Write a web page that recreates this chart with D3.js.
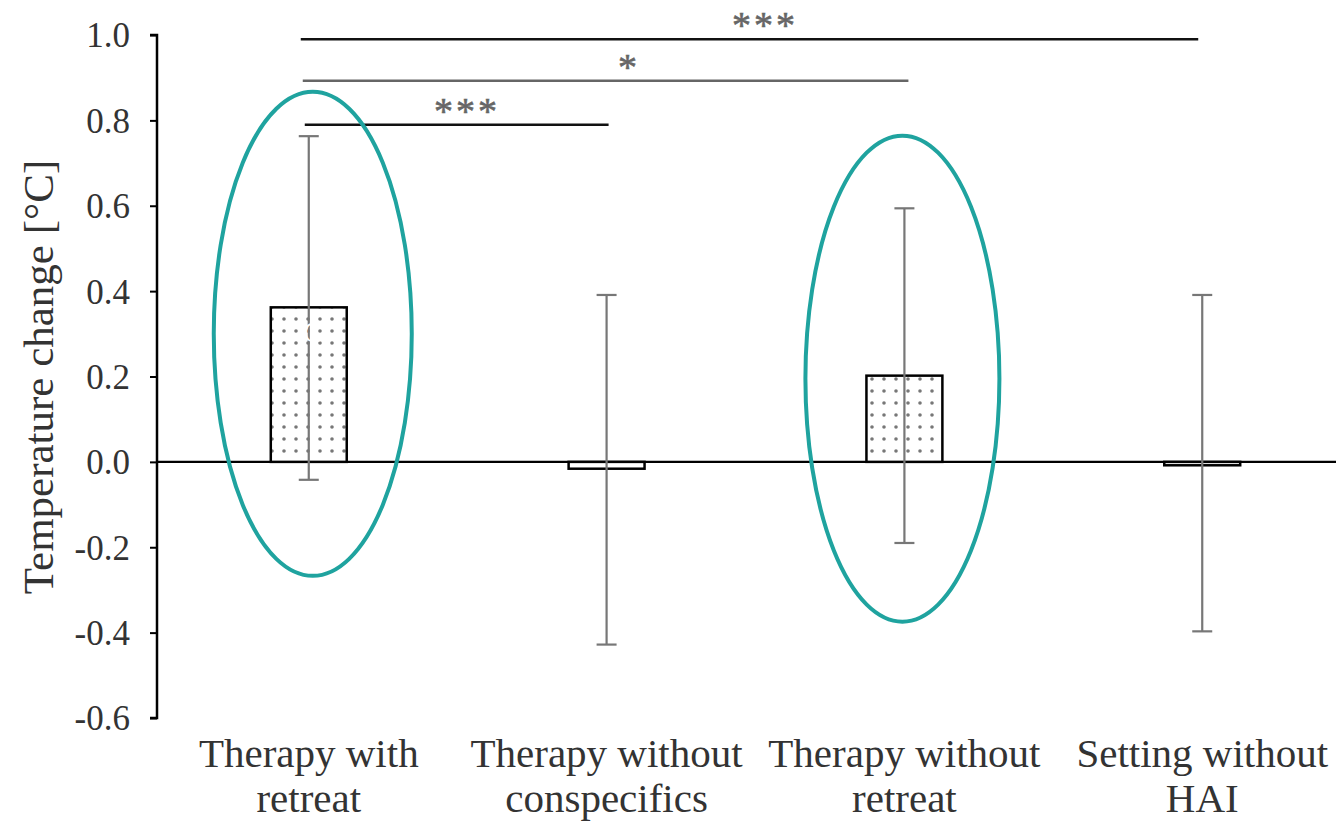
<!DOCTYPE html>
<html><head><meta charset="utf-8">
<script src="https://cdn.jsdelivr.net/npm/d3@7"></script>
<style>body{margin:0;background:#fff}svg{display:block}</style>
</head><body>
<svg id="c" width="1336" height="825"></svg>
<script>
const categories = [["Therapy with","retreat"],["Therapy without","conspecifics"],["Therapy without","retreat"],["Setting without","HAI"]];
const means = [0.362, -0.016, 0.202, -0.008];
const errLow = [-0.042, -0.428, -0.19, -0.397];
const errHigh = [0.763, 0.391, 0.594, 0.391];
const patterned = [true, false, true, false];
const yTicks = [1.0, 0.8, 0.6, 0.4, 0.2, 0.0, -0.2, -0.4, -0.6];
const sigPairs = [[0,3,0.99,"***"],[0,2,0.893,"*"],[0,1,0.79,"***"]];
const highlighted = [0, 2];

const svg = d3.select("#c");
const x = d3.scaleBand().domain(d3.range(4)).range([160, 1351]).paddingInner(0.745).paddingOuter(0.372);
const y = d3.scaleLinear().domain([-0.6, 1.0]).range([718, 35]);
const font = "'Liberation Serif','Times New Roman',serif";

const defs = svg.append("defs");
const pat = defs.append("pattern").attr("id","dots").attr("patternUnits","userSpaceOnUse")
  .attr("width",12).attr("height",12).attr("x",2).attr("y",1);
pat.append("rect").attr("width",12).attr("height",12).attr("fill","#fff");
pat.append("circle").attr("cx",6).attr("cy",6).attr("r",1.8).attr("fill","#777");

// zero line
svg.append("line").attr("x1",157).attr("x2",1336).attr("y1",y(0)).attr("y2",y(0))
  .attr("stroke","#000").attr("stroke-width",2.2);

// bars
const bw = x.bandwidth();
svg.selectAll("rect.bar").data(means).join("rect").attr("class","bar")
  .attr("x",(d,i)=>x(i)).attr("width",bw)
  .attr("y",d=>Math.min(y(d),y(0))).attr("height",d=>Math.max(Math.abs(y(d)-y(0)),1))
  .attr("fill",(d,i)=>patterned[i]?"url(#dots)":"#fff")
  .attr("stroke","#000").attr("stroke-width",2.5);

// error bars
const eb = svg.append("g").attr("stroke","#777").attr("stroke-width",2.2);
means.forEach((m,i)=>{
  const cx = x(i)+bw/2;
  eb.append("line").attr("x1",cx).attr("x2",cx).attr("y1",y(errHigh[i])).attr("y2",y(errLow[i]));
  eb.append("line").attr("x1",cx-10).attr("x2",cx+10).attr("y1",y(errHigh[i])).attr("y2",y(errHigh[i]));
  eb.append("line").attr("x1",cx-10).attr("x2",cx+10).attr("y1",y(errLow[i])).attr("y2",y(errLow[i]));
});

// white C label in bar 1
svg.append("text").attr("x",x(0)+bw/2+4).attr("y",y(0.28)).attr("text-anchor","middle")
  .attr("font-family",font).attr("font-size",30).attr("fill","#fff").text("C");

// significance lines
const sigColors = ["#111","#666","#111"];
const endOff = [-4, 4, 2];
sigPairs.forEach((s,k)=>{
  const x1 = x(s[0])+bw/2 - 8 + k*2, x2 = x(s[1])+bw/2 + endOff[k];
  svg.append("line").attr("x1",x1).attr("x2",x2).attr("y1",y(s[2])).attr("y2",y(s[2]))
    .attr("stroke",sigColors[k]).attr("stroke-width",2.5);
});
const starX = [765, 629, 467];
sigPairs.forEach((s,k)=>{
  svg.append("text").attr("x",starX[k]).attr("y",y(s[2])-1).attr("text-anchor","middle")
    .attr("font-family",font).attr("font-size",38).attr("fill","#666")
    .attr("stroke","#666").attr("stroke-width",0.6)
    .attr("letter-spacing",3).text(s[3]);
});

// y axis
const ax = svg.append("g").attr("transform","translate(157,0)")
  .call(d3.axisLeft(y).tickValues(yTicks).tickSize(7).tickPadding(20).tickFormat(d=>d3.format(".1f")(d).replace("\u2212","-")));
ax.select(".domain").attr("stroke","#000").attr("stroke-width",2.5).attr("d","M-7,"+y(1)+"H0V"+y(-0.6)+"H-7");
ax.selectAll(".tick line").attr("stroke","#000").attr("stroke-width",2);
ax.selectAll(".tick text").attr("font-family",font).attr("font-size",35).attr("fill","#333")
  .attr("dy","0.34em");

// y label
svg.append("text").attr("transform","translate(53,377) rotate(-90)").attr("text-anchor","middle")
  .attr("font-family",font).attr("font-size",43).attr("fill","#333").text("Temperature change [°C]");

// x labels
categories.forEach((c,i)=>{
  const t = svg.append("text").attr("x",x(i)+bw/2).attr("text-anchor","middle")
    .attr("font-family",font).attr("font-size",41).attr("fill","#333");
  t.append("tspan").attr("x",x(i)+bw/2).attr("y",767).text(c[0]);
  t.append("tspan").attr("x",x(i)+bw/2).attr("y",812).text(c[1]);
});

// highlight ellipses
const ell = [{cy:0.3, ry:242, rx:99, dx:4},{cy:0.195, ry:243, rx:97, dx:-2}];
highlighted.forEach((idx,k)=>{
  svg.append("ellipse").attr("cx",x(idx)+bw/2+ell[k].dx).attr("cy",y(ell[k].cy))
    .attr("rx",ell[k].rx).attr("ry",ell[k].ry)
    .attr("fill","none").attr("stroke","#1fa39f").attr("stroke-width",4);
});
</script>
</body></html>
